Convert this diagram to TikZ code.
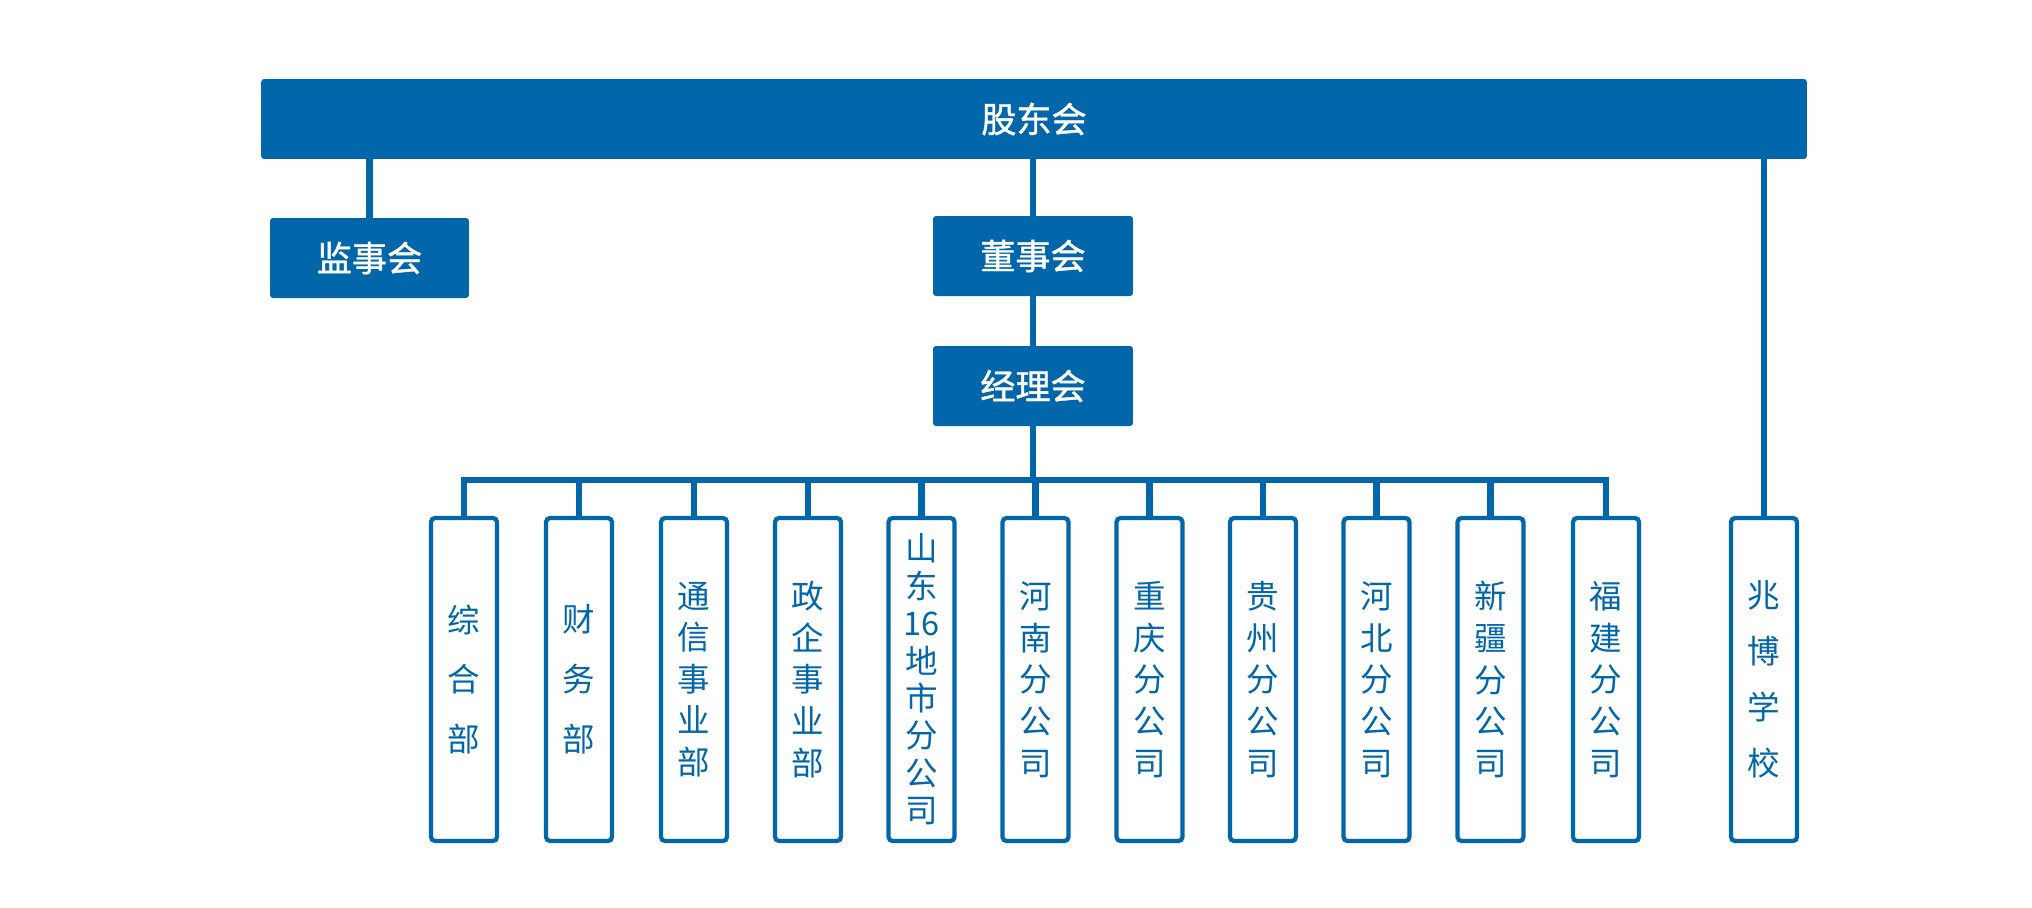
\documentclass[tikz,border=0pt]{standalone}
\usepackage{fontspec}
\setmainfont{Noto Sans CJK SC}
\newfontfamily\headfont{Noto Sans CJK SC}[FakeBold=1.2]
\definecolor{zbblue}{RGB}{2,102,171}
\newcommand{\vtext}[1]{\fontsize{18.5pt}{#1}\selectfont}
\tikzset{
    headbox/.style={fill=zbblue, text=white, rounded corners=0.06cm, inner sep=0pt,
        minimum height=1.6cm, font=\headfont\fontsize{20pt}{24pt}\selectfont},
    deptbox/.style={draw=zbblue, line width=0.085cm, fill=white, text=zbblue, rounded corners=0.08cm,
        inner sep=0pt, minimum width=1.32cm, minimum height=6.46cm, align=center, text width=1.2cm},
    link/.style={draw=zbblue, line width=0.125cm}
}

\begin{document}
\begin{tikzpicture}[x=0.02cm, y=-0.02cm]
    \useasboundingbox (0,0) rectangle (2032,907);

    \node[headbox, minimum width=30.92cm] (gdh) at (1034,119) {股东会};
    \node[headbox, minimum width=3.98cm] (jsh) at (369.5,258) {监事会};
    \node[headbox, minimum width=4cm] (dsh) at (1033,256) {董事会};
    \node[headbox, minimum width=4cm] (jlh) at (1033,386) {经理会};

    \node[deptbox, font=\vtext{34.1pt}] (b1) at (464,679.5) {综\\合\\部};
    \node[deptbox, font=\vtext{34.1pt}] (b2) at (579,679.5) {财\\务\\部};
    \node[deptbox, font=\vtext{23.7pt}] (b3) at (694,679.5) {通\\信\\事\\业\\部};
    \node[deptbox, font=\vtext{23.7pt}] (b4) at (808,679.5) {政\\企\\事\\业\\部};
    \node[deptbox, font=\vtext{21.3pt}] (b5) at (921.5,679.5) {山\\东\\16\\地\\市\\分\\公\\司};
    \node[deptbox, font=\vtext{23.7pt}] (b6) at (1035.5,679.5) {河\\南\\分\\公\\司};
    \node[deptbox, font=\vtext{23.7pt}] (b7) at (1149.5,679.5) {重\\庆\\分\\公\\司};
    \node[deptbox, font=\vtext{23.7pt}] (b8) at (1263,679.5) {贵\\州\\分\\公\\司};
    \node[deptbox, font=\vtext{23.7pt}] (b9) at (1376.5,679.5) {河\\北\\分\\公\\司};
    \node[deptbox, font=\vtext{23.7pt}] (b10) at (1490.5,679.5) {新\\疆\\分\\公\\司};
    \node[deptbox, font=\vtext{23.7pt}] (b11) at (1606,679.5) {福\\建\\分\\公\\司};
    \node[deptbox, font=\vtext{31.9pt}] (zbxx) at (1764,679.5) {兆\\博\\学\\校};

    \coordinate (bus) at (1034,480);

    \draw[link] (jsh.north) -- (jsh.north |- gdh.south);
    \draw[link] (dsh.north) -- (dsh.north |- gdh.south);
    \draw[link] (zbxx.north) -- (zbxx.north |- gdh.south);
    \draw[link] (dsh.south) -- (jlh.north);
    \draw[link] (jlh.south) -- (jlh.south |- bus);
    \draw[link] (b1.north) -- (b1.north |- bus) -- (b11.north |- bus) -- (b11.north);
    \foreach \i in {2,...,10}
        \draw[link] (b\i.north) -- (b\i.north |- bus);
\end{tikzpicture}
\end{document}
